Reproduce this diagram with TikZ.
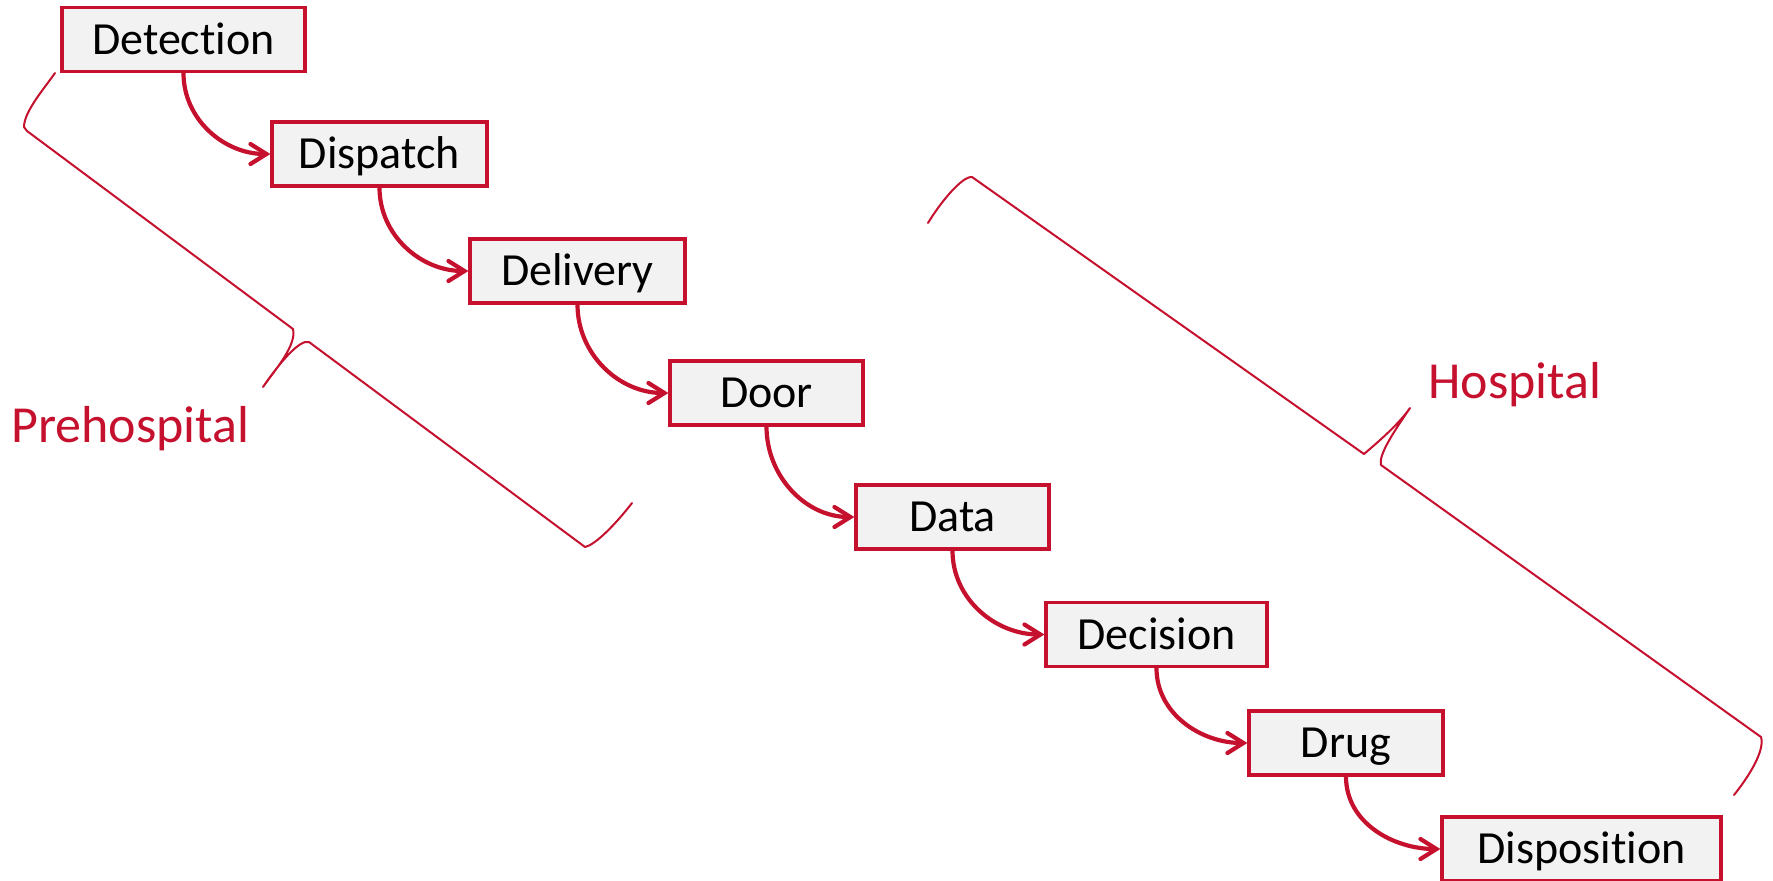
\documentclass[tikz,border=0pt]{standalone}
\usepackage{fontspec}
\setmainfont{Carlito}[Ligatures={NoCommon}]
\usetikzlibrary{arrows.meta}
\definecolor{cred}{RGB}{197,16,46}
\definecolor{boxfill}{RGB}{242,242,242}
\begin{document}
\begin{tikzpicture}[x=0.5pt,y=-0.5pt,
  stepbox/.style={draw=cred, line width=1.6pt, fill=boxfill, minimum height=32pt,
    inner sep=0pt, font=\fontsize{23}{28}\selectfont, text height=14.8pt, text depth=0pt},
  flow/.style={draw=cred, line width=2.1pt, line cap=round,
    -{Straight Barb[length=8pt,width=10pt,line cap=round]}},
  bracestroke/.style={draw=cred, line width=1pt, line join=round, line cap=round},
  lbl/.style={text=cred, font=\fontsize{26}{31}\selectfont, inner sep=0pt}
]
\useasboundingbox (0,0) rectangle (1773,880);

\node[stepbox, minimum width=121.5pt] (det) at (183.5,39.5) {Detection};
\node[stepbox, minimum width=107.5pt] (dis) at (379.5,154) {Dispatch};
\node[stepbox, minimum width=107.5pt] (del) at (577.5,271) {Delivery};
\node[stepbox, minimum width=96.5pt]  (door) at (766.5,393) {Door};
\node[stepbox, minimum width=96.5pt]  (data) at (952.5,517) {Data};
\node[stepbox, minimum width=110.5pt] (dec) at (1156.5,634.5) {Decision};
\node[stepbox, minimum width=97pt]    (drug) at (1346,743) {Drug};
\node[stepbox, minimum width=139.5pt] (disp) at (1581.5,849) {Disposition};

\draw[flow] (det.south) to[out=-90,in=180] (dis.west);
\draw[flow] (dis.south) to[out=-90,in=180] (del.west);
\draw[flow] (del.south) to[out=-90,in=180] (door.west);
\draw[flow] (door.south) to[out=-90,in=180] (data.west);
\draw[flow] (data.south) to[out=-90,in=180] (dec.west);
\draw[flow] (dec.south) to[out=-90,in=180] (drug.west);
\draw[flow] (drug.south) to[out=-90,in=180] (disp.west);

% Prehospital brace
\draw[bracestroke] (55,73) .. controls (43,90) and (24,112) .. (24,127)
  -- (27,131) -- (293,329)
  .. controls (297,345) and (275,370) .. (263,387)
  .. controls (280,362) and (300,339) .. (309,342)
  -- (585,547)
  .. controls (595,545) and (615,525) .. (632,503);

% Hospital brace
\draw[bracestroke] (928,223) .. controls (940,203) and (962,176) .. (972,177)
  -- (1364,454)
  .. controls (1378,442) and (1398,425) .. (1410,408)
  .. controls (1395,430) and (1378,455) .. (1381,465)
  -- (1761,737)
  .. controls (1765,750) and (1750,775) .. (1734,795);

\node[lbl, anchor=base west] (pre) at (11,442) {Prehospital};
\node[lbl, anchor=base west] (hos) at (1428,398) {Hospital};
\end{tikzpicture}
\end{document}
